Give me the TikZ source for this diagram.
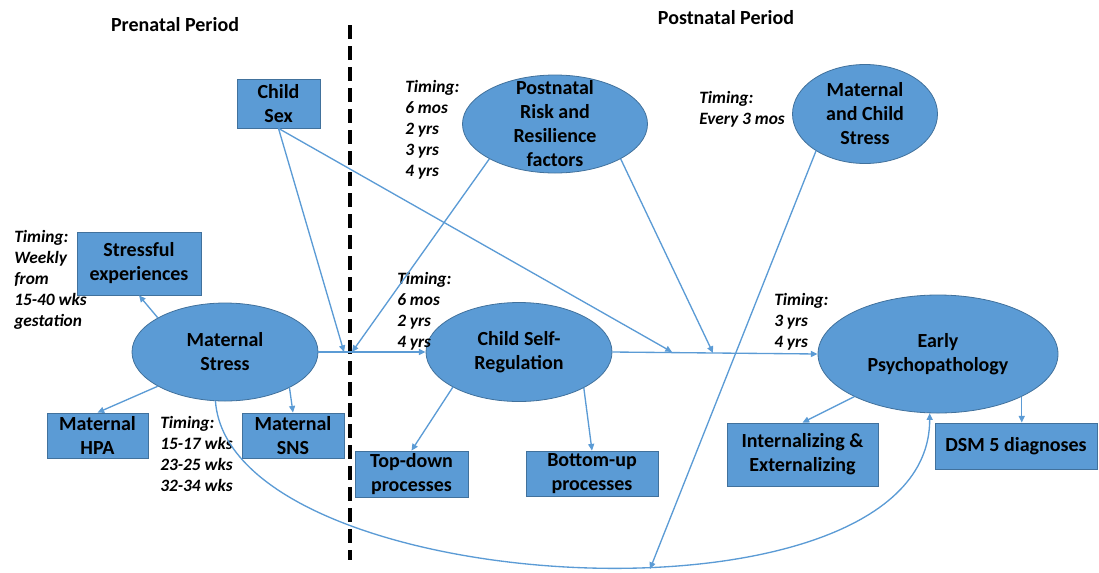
\documentclass[tikz,border=0pt]{standalone}
\usepackage{fontspec}
\setmainfont{Carlito}
\usetikzlibrary{shapes.geometric,arrows.meta}

\definecolor{boxblue}{HTML}{5B9BD5}
\definecolor{edgeblue}{HTML}{41719C}

\tikzset{
  blob/.style={ellipse, draw=edgeblue, fill=boxblue, line width=0.6pt, inner sep=0pt},
  card/.style={rectangle, draw=edgeblue, fill=boxblue, line width=0.6pt, inner sep=0pt,
    align=center, font=\fontsize{15}{18}\selectfont\bfseries},
  inside/.style={align=center, inner sep=0pt, font=\fontsize{15}{18}\selectfont\bfseries},
  timing/.style={anchor=north west, align=left, inner sep=0pt,
    font=\fontsize{13}{15.75}\selectfont\bfseries\itshape},
  period/.style={font=\fontsize{15}{18}\selectfont\bfseries},
  link/.style={draw=boxblue, line width=1pt, -{Triangle[length=5pt,width=4.5pt]}},
}

\begin{document}
\begin{tikzpicture}[x=0.75pt,y=-0.75pt]
  \useasboundingbox (0,0) rectangle (1099,572);

  % periods and the line at birth
  \node[period] (pre) at (175,25) {Prenatal Period};
  \node[period] (post) at (726,18) {Postnatal Period};
  \draw[line width=3pt, dash pattern=on 10.5pt off 5.25pt] (350,25) -- (350,560);

  % prenatal side
  \node[card, minimum width=62.25pt, minimum height=36.75pt] (cs) at (278.5,103.5) {Child\\Sex};
  \node[card, minimum width=93pt, minimum height=47.25pt] (se) at (139,263.5) {Stressful\\experiences};
  \node[blob, minimum width=139.5pt, minimum height=73.5pt,
    label={[inside]center:Maternal\\Stress}] (ms) at (225,352) {};
  \node[card, minimum width=75.75pt, minimum height=33.75pt] (hpa) at (97.5,435.5) {Maternal\\HPA};
  \node[card, minimum width=76.5pt, minimum height=33.75pt] (sns) at (293,435.5) {Maternal\\SNS};

  % postnatal side
  \node[blob, minimum width=138.75pt, minimum height=73.5pt,
    label={[inside]center:Postnatal\\Risk and\\Resilience\\factors}] (prr) at (555,124) {};
  \node[blob, minimum width=108.75pt, minimum height=74.25pt,
    label={[inside]center:Maternal\\and Child\\Stress}] (mcs) at (865,114) {};
  \node[blob, minimum width=139.5pt, minimum height=74.25pt,
    label={[inside]center:Child Self-\\Regulation}] (csr) at (519,352) {};
  \node[blob, minimum width=180pt, minimum height=88.5pt,
    label={[inside]center:Early\\Psychopathology}] (ep) at (938,354) {};
  \node[card, minimum width=84.75pt, minimum height=34.5pt] (td) at (411.5,474) {Top-down\\processes};
  \node[card, minimum width=99pt, minimum height=33.75pt] (bu) at (592,473.5) {Bottom-up\\processes};
  \node[card, minimum width=113.25pt, minimum height=47.25pt] (ie) at (802.5,454.5) {Internalizing \&\\Externalizing};
  \node[card, minimum width=121.5pt, minimum height=34.5pt] (dsm) at (1016,446) {DSM 5 diagnoses};

  % timing notes
  \node[timing] (t1) at (14,230) {Timing:\\Weekly\\from\\15-40 wks\\gestation};
  \node[timing] (t2) at (160,416) {Timing:\\15-17 wks\\23-25 wks\\32-34 wks};
  \node[timing] (t3) at (405,80) {Timing:\\6 mos\\2 yrs\\3 yrs\\4 yrs};
  \node[timing] (t4) at (397,272) {Timing:\\6 mos\\2 yrs\\4 yrs};
  \node[timing] (t5) at (699,91) {Timing:\\Every 3 mos};
  \node[timing] (t6) at (774,293) {Timing:\\3 yrs\\4 yrs};

  % points where moderators meet the paths
  \coordinate (m1) at (344,352);
  \coordinate (m2) at (352,352);
  \coordinate (m3) at (672,352);
  \coordinate (m4) at (713,353);
  \coordinate (m5) at (650,569);

  \draw[link] (ms.153) -- (se.south);
  \draw[link] (ms.207) -- (hpa.north);
  \draw[link] (ms.331) -- (sns.north);
  \draw[link] (ms.east) -- (csr.west);
  \draw[link] (csr.east) -- (ep.west);
  \draw[link] (csr.208) -- (td.north);
  \draw[link] (csr.331) -- (bu.north);
  \draw[link] (ep.207) -- (ie.north);
  \draw[link] (ep.333) -- (ep.333 |- dsm.north);

  \draw[link] (cs.south) -- (m1);
  \draw[link] (cs.south) -- (m3);
  \draw[link] (prr.208) -- (m2);
  \draw[link] (prr.332) -- (m4);
  \draw[link] (mcs.217) -- (m5);

  \draw[link] (ms.259) .. controls (230,600) and (930,640) .. (ep.262);
\end{tikzpicture}
\end{document}
